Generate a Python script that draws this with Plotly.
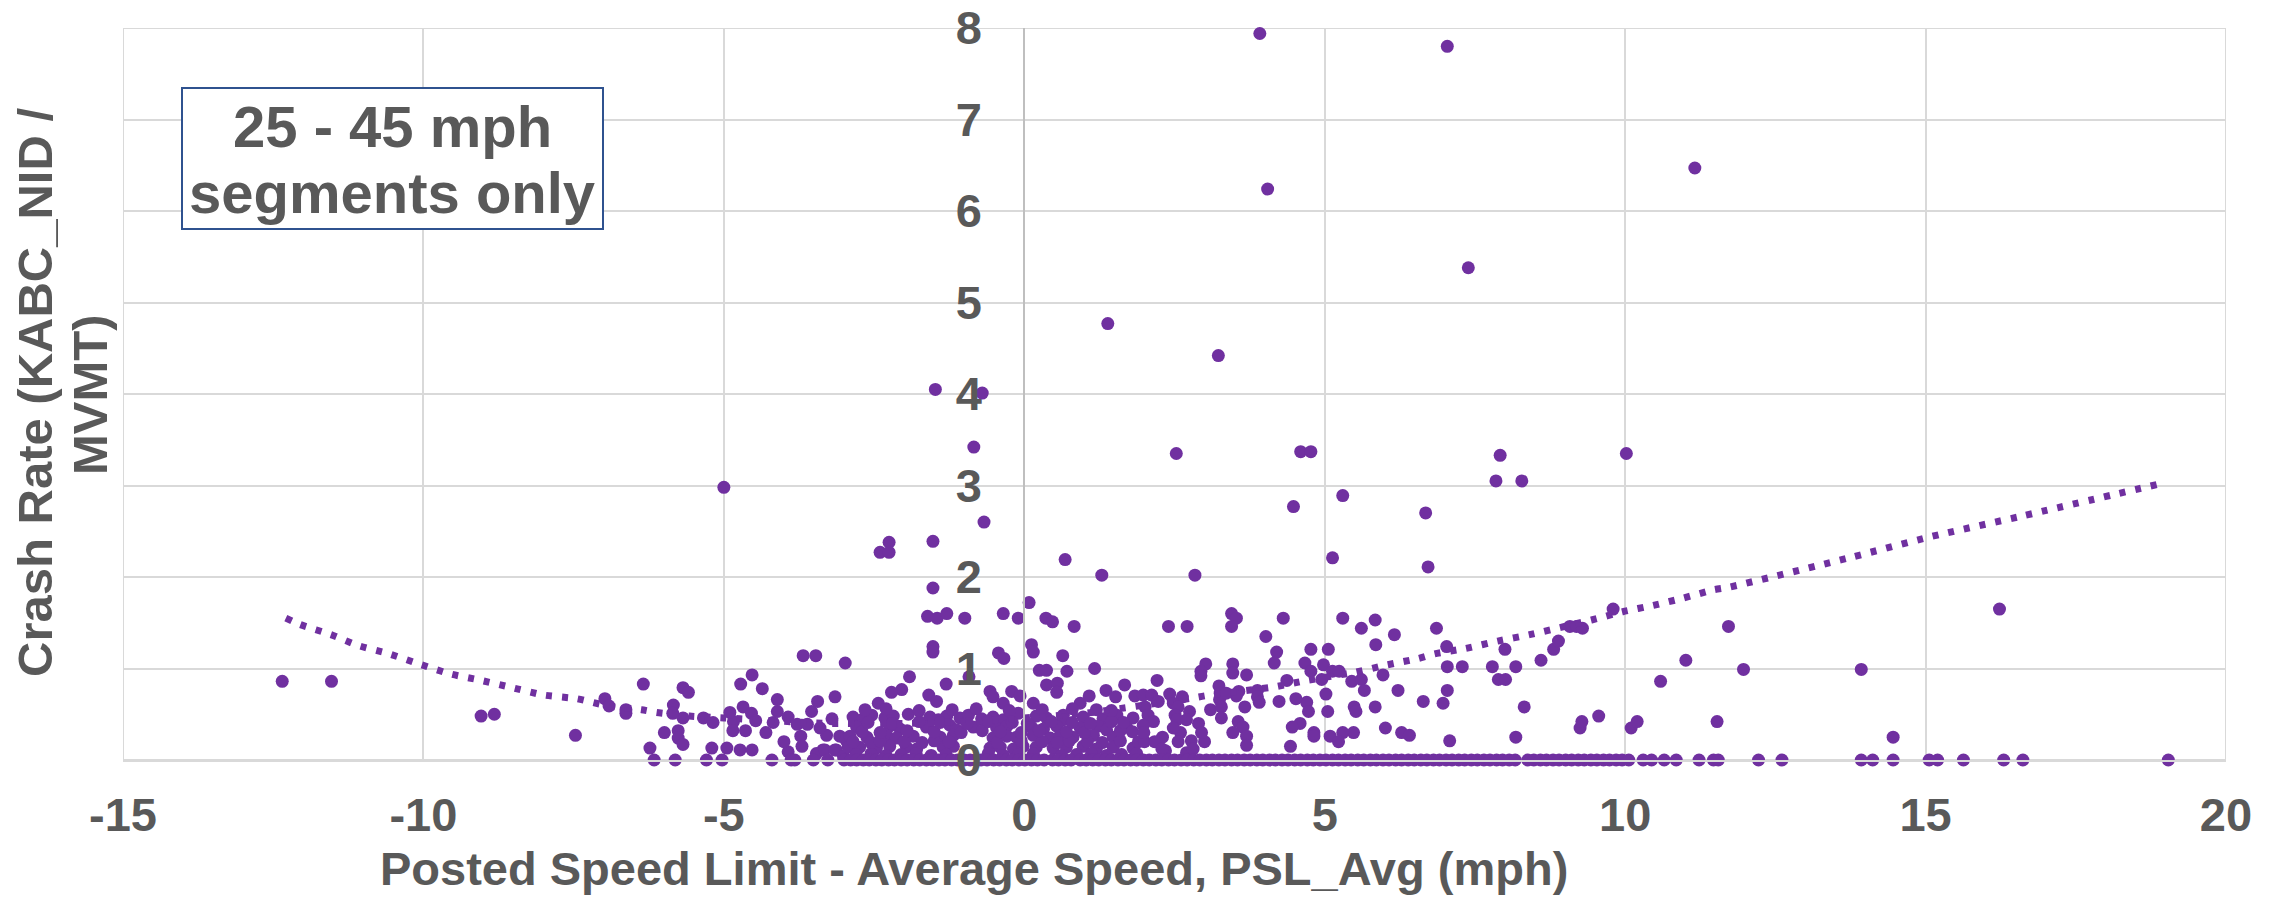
import plotly.graph_objects as go

# ---------------- data ----------------
# sparse high / outlying segments
out_x = [3.92, 7.04, 4.05, 11.16, 7.39, 1.39, 3.23, -1.48, -0.70, -0.84, 2.53, 4.60, 4.77,
         7.92, 10.02, 7.85, 8.28, 4.48, 5.30, 6.68, -0.67, -1.52, -2.25, -2.40, -2.25, 0.68,
         5.13, -5.00, 6.72, 1.29, 2.84, -12.35, -11.53, -9.04, -8.82, -7.47]
out_y = [7.94, 7.80, 6.24, 6.47, 5.38, 4.77, 4.42, 4.05, 4.01, 3.42, 3.35, 3.37, 3.37,
         3.33, 3.35, 3.05, 3.05, 2.77, 2.89, 2.70, 2.60, 2.39, 2.38, 2.27, 2.27, 2.19,
         2.21, 2.98, 2.11, 2.02, 2.02, 0.86, 0.86, 0.48, 0.50, 0.27]

# segments between -7 and -2.9 mph
left_x = [-6.98, -6.91, -6.63, -6.63, -6.34, -6.23, -5.99, -5.84, -5.85, -5.76, -5.76, -5.68,
          -5.68, -5.59, -5.68, -5.34, -5.20, -5.18, -4.95, -4.84, -4.85, -4.72, -4.53, -4.36,
          -4.68, -4.73, -4.53, -4.54, -4.64, -4.47, -4.18, -4.11, -4.11, -3.93, -3.93, -3.78,
          -3.61, -3.72, -3.54, -3.44, -3.15, -3.35, -3.29, -3.13, -3.07, -2.98, -3.68, -3.47,
          -2.97, -3.46, -3.32, -3.15, -3.01, -2.93, -4.30, -4.00, -3.70, -3.40, -3.20, -4.90]
left_y = [0.67, 0.59, 0.51, 0.55, 0.83, 0.13, 0.30, 0.60, 0.51, 0.32, 0.24, 0.17,
          0.79, 0.74, 0.46, 0.46, 0.13, 0.41, 0.13, 0.42, 0.32, 0.83, 0.93, 0.78,
          0.58, 0.11, 0.11, 0.51, 0.32, 0.43, 0.41, 0.66, 0.53, 0.47, 0.09, 0.39,
          0.39, 0.26, 0.53, 0.64, 0.69, 0.11, 0.27, 0.11, 0.26, 1.06, 1.14, 1.14,
          0.22, 0.07, 0.11, 0.11, 0.04, 0.14, 0.30, 0.20, 0.15, 0.35, 0.45, 0.52]

# segments between -2.9 and 1.9 mph
mid_x = [-1.52, -1.61, -1.45, -1.29, -0.99, -1.52, -1.52, -0.35, -0.10, 0.08, 0.36, 0.47,
         0.83, 0.12, 0.15, -0.43, -0.34, 0.64, 0.25, 0.37, 0.71, 1.17, 0.37, 0.55, 0.54,
         1.36, 1.67, -1.91, -2.04, -2.21, -1.30, -0.92, -1.59, -1.46, -2.43, -0.57, -0.52,
         -0.35, -0.21, -0.07, -0.10, 0.15, 0.65, 0.93, 1.08, 1.20, 1.52, 1.84,
         -2.85, -2.68, -2.54, -2.32, -2.18, -1.93, -1.57, -1.43, -1.29, -1.07, -0.93, -0.71,
         -0.52, -0.35, 0.20, 0.37, 0.65, 0.98, 1.31, 1.54, 1.81,
         -2.79, -2.24, -2.07, -1.63, -1.24, -1.13, -0.85, -0.46, -0.29, 0.12, 0.32, 0.54,
         0.93, 1.23, 1.37, 1.70,
         -2.90, -2.62, -2.29, -2.13, -1.85, -1.40, -1.18, -0.52, -0.29, -0.13, 0.15, 0.43,
         0.59, 0.81, 1.15, 1.48,
         -2.74, -2.46, -2.24, -1.96, -1.79, -1.35, -1.18, -0.57, -0.40, -0.18, -0.02, 0.20,
         0.48, 0.70, 0.98, 1.20, 1.48, 1.81]
mid_y = [1.88, 1.57, 1.55, 1.60, 1.55, 1.24, 1.18, 1.60, 1.55, 1.72, 1.55, 1.51,
         1.46, 1.26, 1.18, 1.17, 1.11, 1.14, 0.98, 0.98, 0.97, 1.00, 0.82, 0.84, 0.74,
         0.76, 0.82, 0.91, 0.77, 0.74, 0.83, 0.91, 0.71, 0.64, 0.62, 0.75, 0.69,
         0.62, 0.75, 0.70, 0.51, 0.62, 0.49, 0.62, 0.70, 0.55, 0.69, 0.70,
         0.47, 0.45, 0.49, 0.46, 0.48, 0.50, 0.47, 0.44, 0.48, 0.46, 0.49, 0.45,
         0.47, 0.44, 0.48, 0.46, 0.44, 0.47, 0.45, 0.49, 0.46,
         0.36, 0.37, 0.34, 0.36, 0.38, 0.33, 0.36, 0.35, 0.37, 0.36, 0.34, 0.37,
         0.35, 0.37, 0.33, 0.36,
         0.26, 0.25, 0.27, 0.24, 0.26, 0.25, 0.27, 0.24, 0.26, 0.25, 0.27, 0.24,
         0.26, 0.25, 0.27, 0.25,
         0.14, 0.13, 0.15, 0.14, 0.12, 0.14, 0.15, 0.13, 0.14, 0.12, 0.15, 0.14,
         0.13, 0.14, 0.15, 0.12, 0.14, 0.13]

# further segments filling the dense band near zero (-3 to 3 mph)
band_x = [-2.80, -2.55, -2.30, -2.05, -1.80, -1.55, -1.30, -0.60, -0.35, -0.10, 0.15, 0.62,
          0.87, 1.12, 1.37, 1.62, 1.87,
          -2.85, -2.55, -2.40, -2.00, -1.70, -1.50, -1.25, -0.45, -0.05, 0.30, 0.55, 0.75,
          1.05, 1.30, 1.60, 1.90,
          -2.70, -2.40, -1.95, -1.50, -1.05, -0.70, -0.40, -0.05, 0.25, 0.70, 1.00, 1.60, 1.80,
          -2.60, -2.20, -1.75, -1.40, -0.95, -0.60, -0.20, 0.05, 0.45, 0.80, 1.10, 1.45, 1.65,
          -2.65, -2.30, -1.75, -1.20, -0.80, -0.25, 0.30, 0.80, 1.45,
          2.00, 2.30, 2.60, 2.90, 2.35, 2.70, 3.00, 3.10]
band_y = [0.06, 0.07, 0.05, 0.06, 0.07, 0.05, 0.06, 0.07, 0.05, 0.06, 0.07, 0.05,
          0.06, 0.07, 0.05, 0.06, 0.07,
          0.20, 0.19, 0.21, 0.20, 0.19, 0.21, 0.20, 0.19, 0.21, 0.20, 0.19, 0.21,
          0.20, 0.19, 0.21, 0.20,
          0.31, 0.30, 0.32, 0.31, 0.30, 0.32, 0.31, 0.30, 0.32, 0.31, 0.30, 0.32, 0.31,
          0.41, 0.40, 0.42, 0.41, 0.40, 0.42, 0.41, 0.40, 0.42, 0.41, 0.40, 0.42, 0.41,
          0.55, 0.56, 0.54, 0.55, 0.56, 0.54, 0.55, 0.56, 0.54,
          0.20, 0.25, 0.30, 0.40, 0.10, 0.08, 0.20, 0.55]

# segments between 1.9 and 6.8 mph
right_x = [2.40, 2.71, 3.45, 3.53, 3.45, 4.31, 4.02, 4.20, 4.16, 4.77, 5.06, 5.30, 5.61,
           5.84, 5.85, 6.16, 4.67, 4.77, 4.98, 5.13, 5.24, 4.95, 5.02, 5.05, 5.45, 5.61,
           5.66, 5.97, 6.22, 5.49, 5.52, 5.84, 6.01, 6.28, 6.41, 6.64, 5.48, 5.30, 5.09,
           5.23, 4.82, 4.82, 4.70, 4.73, 4.52, 4.59, 4.46, 4.43, 4.37, 4.24, 3.70, 3.67,
           3.47, 3.47, 3.57, 3.53, 3.56, 3.64, 3.70, 3.70, 3.47, 3.88, 3.88, 3.91, 3.02,
           2.94, 2.94, 3.24, 3.26, 3.25, 3.28, 3.28, 3.36, 2.95, 2.21, 1.98, 2.12, 2.23,
           2.01, 2.42, 2.63, 2.48, 2.56, 2.06, 2.15, 1.98, 1.99, 2.51, 2.54, 2.75, 2.70,
           2.48, 2.17, 2.29, 2.56, 2.78, 2.81]
right_y = [1.46, 1.46, 1.60, 1.55, 1.46, 1.55, 1.35, 1.18, 1.06, 1.21, 1.21, 1.55, 1.44,
           1.53, 1.26, 1.37, 1.06, 0.97, 1.04, 0.97, 0.97, 0.88, 0.72, 0.53, 0.86, 0.88,
           0.76, 0.93, 0.76, 0.58, 0.53, 0.58, 0.35, 0.30, 0.27, 0.64, 0.30, 0.30, 0.26,
           0.20, 0.30, 0.26, 0.63, 0.53, 0.67, 0.40, 0.36, 0.15, 0.87, 0.64, 0.93, 0.58,
           1.05, 0.95, 0.75, 0.70, 0.42, 0.36, 0.26, 0.16, 0.30, 0.76, 0.69, 0.63, 1.05,
           0.97, 0.92, 0.81, 0.73, 0.66, 0.58, 0.46, 0.73, 0.30, 0.87, 0.71, 0.71, 0.64,
           0.58, 0.72, 0.69, 0.62, 0.58, 0.49, 0.42, 0.38, 0.30, 0.49, 0.44, 0.53, 0.44,
           0.35, 0.20, 0.12, 0.20, 0.21, 0.12]

# segments above 6.8 mph
far_x = [6.86, 7.03, 7.04, 7.29, 7.04, 6.97, 7.08, 7.79, 8.18, 7.89, 8.01, 8.00, 8.60,
         8.81, 8.89, 9.08, 9.19, 9.29, 9.80, 8.32, 8.18, 9.25, 9.28, 9.56, 10.10, 10.20,
         10.59, 11.01, 11.53, 16.23, 11.72, 11.97, 13.93, 14.46]
far_y = [1.44, 1.24, 1.02, 1.02, 0.76, 0.62, 0.21, 1.02, 1.02, 0.88, 0.88, 1.21, 1.09,
         1.21, 1.30, 1.46, 1.46, 1.44, 1.65, 0.58, 0.25, 0.35, 0.42, 0.48, 0.35, 0.42,
         0.86, 1.09, 0.42, 1.65, 1.46, 0.99, 0.99, 0.25]

# segments with zero KABC crashes
zero_x = [-6.16, -5.81, -5.29, -5.03, -4.20, -3.88, -3.82, -3.51, -3.27,
          -3.00, -2.89, -2.79, -2.68, -2.58, -2.47, -2.37, -2.26, -2.16, -2.05, -1.95,
          -1.84, -1.74, -1.63, -1.53, -1.42, -1.32, -1.21, -1.11, -1.00, -0.90, -0.80,
          -0.72, -0.62, -0.51, -0.41, -0.30, -0.20, -0.09, 0.01, 0.12, 0.22, 0.33, 0.47,
          0.57, 0.68, 0.78, 0.93, 1.03, 1.14, 1.24, 1.35, 1.45, 1.56, 1.66, 1.77, 1.87,
          1.98, 2.08, 2.19, 2.29, 2.40, 2.50, 2.61, 2.71, 2.82, 2.92, 3.03, 3.13, 3.24,
          3.34, 3.45, 3.55, 3.66, 3.76, 3.87, 3.97, 4.08, 4.18, 4.29, 4.39, 4.50, 4.60,
          4.71, 4.81, 4.92, 5.02, 5.13, 5.23, 5.34, 5.44, 5.55, 5.65, 5.76, 5.86, 5.97,
          6.07, 6.18, 6.28, 6.39, 6.49, 6.60, 6.70, 6.81, 6.91, 7.02, 7.12, 7.23, 7.33,
          7.44, 7.54, 7.65, 7.75, 7.86, 7.96, 8.07, 8.17, 8.38, 8.48, 8.59, 8.69, 8.80,
          8.90, 9.01, 9.11, 9.22, 9.32, 9.43, 9.53, 9.64, 9.74, 9.85, 9.95, 10.06,
          10.30, 10.44, 10.65, 10.85, 11.23, 11.47, 11.55, 12.22, 12.61, 13.93, 14.12,
          14.46, 15.06, 15.20, 15.63, 16.30, 16.62, 19.04]
zero_y = [0.0] * len(zero_x)

# polynomial trend line, read at points along the curve
trend_x = [-12.29, -12.05, -11.54, -11.08, -10.57, -10.03, -9.55, -9.04, -8.52, -8.00,
           -7.45, -6.92, -6.37, -6.12, -5.57, -5.00, -4.73, -3.34, -3.04, -2.00, -1.00,
           0.00, 1.00, 2.00, 2.82, 3.09, 4.17, 4.70, 5.51, 6.04, 6.56, 6.83, 7.35, 7.88,
           8.41, 8.93, 9.44, 9.96, 10.47, 10.97, 11.47, 11.74, 13.79, 15.08, 16.63, 18.91]
trend_y = [1.55, 1.48, 1.37, 1.25, 1.16, 1.04, 0.94, 0.87, 0.79, 0.71,
           0.67, 0.59, 0.55, 0.52, 0.48, 0.46, 0.45, 0.40, 0.40, 0.40, 0.42,
           0.46, 0.51, 0.60, 0.68, 0.71, 0.80, 0.87, 0.96, 1.04, 1.11, 1.16, 1.22, 1.30,
           1.37, 1.45, 1.53, 1.62, 1.69, 1.77, 1.86, 1.89, 2.22, 2.44, 2.67, 3.02]

x_ticks = [-15, -10, -5, 0, 5, 10, 15, 20]
y_ticks = [0, 1, 2, 3, 4, 5, 6, 7, 8]
x_range = [-15, 20]
y_range = [0, 8]

# ---------------- figure ----------------
PURPLE = "#7030A0"
GRAY = "#595959"
GRID = "#D9D9D9"
FONT = "Liberation Sans, Arial, sans-serif"

W, H = 2280, 898
ML, MR, MT, MB = 123, 54, 28, 138          # plot box, in page pixels
PW, PH = W - ML - MR, H - MT - MB


def px_x(p):
    return (p - ML) / PW


def px_y(p):
    return (H - MB - p) / PH


all_x = out_x + left_x + mid_x + band_x + right_x + far_x + zero_x
all_y = out_y + left_y + mid_y + band_y + right_y + far_y + zero_y

fig = go.Figure()
fig.add_trace(go.Scatter(
    x=all_x, y=all_y, mode="markers",
    marker=dict(color=PURPLE, size=13, line=dict(width=0)),
    cliponaxis=False, showlegend=False, name="Segments"))
fig.add_trace(go.Scatter(
    x=trend_x, y=trend_y, mode="lines",
    line=dict(color=PURPLE, width=7, dash="6px,10px", shape="spline", smoothing=0.6),
    showlegend=False, name="Poly. trend"))

fig.update_layout(
    width=W, height=H,
    margin=dict(l=ML, r=MR, t=MT, b=MB, autoexpand=False),
    paper_bgcolor="white", plot_bgcolor="white",
    font=dict(family=FONT, color=GRAY, size=47, weight="bold"),
    xaxis=dict(range=x_range, tickvals=x_ticks, ticktext=[str(v) for v in x_ticks],
               showgrid=True, gridcolor=GRID, gridwidth=2, zeroline=False,
               showline=True, linecolor=GRID, linewidth=2, ticks="",
               tickfont=dict(family=FONT, size=47, color=GRAY, weight="bold"),
               ticklabelstandoff=13, ticklabeloverflow="allow"),
    yaxis=dict(range=y_range, tickvals=y_ticks, ticktext=[str(v) for v in y_ticks],
               anchor="free", position=px_x(ML + 15 * PW / 35),
               showgrid=True, gridcolor=GRID, gridwidth=2, zeroline=False,
               showline=True, linecolor="#BFBFBF", linewidth=2, ticks="",
               tickfont=dict(family=FONT, size=47, color=GRAY, weight="bold"),
               ticklabelstandoff=32, ticklabeloverflow="allow"),
)

# plot-area frame (left, right and top grid lines at the range ends)
fig.add_shape(type="rect", xref="x", yref="y",
              x0=x_range[0], x1=x_range[1], y0=y_range[0], y1=y_range[1],
              line=dict(color=GRID, width=2), fillcolor="rgba(0,0,0,0)", layer="below")

# annotation box
fig.add_shape(type="rect", xref="paper", yref="paper",
              x0=px_x(182), x1=px_x(603), y0=px_y(229), y1=px_y(88),
              line=dict(color="#2F528F", width=2), fillcolor="white", layer="above")
fig.add_annotation(text="25 - 45 mph", xref="paper", yref="paper",
                   x=px_x(392), y=px_y(127), xanchor="center", yanchor="middle",
                   showarrow=False, font=dict(family=FONT, size=58, color=GRAY, weight="bold"))
fig.add_annotation(text="segments only", xref="paper", yref="paper",
                   x=px_x(392), y=px_y(192), xanchor="center", yanchor="middle",
                   showarrow=False, font=dict(family=FONT, size=58, color=GRAY, weight="bold"))

# axis titles
fig.add_annotation(text="Posted Speed Limit - Average Speed, PSL_Avg (mph)",
                   xref="paper", yref="paper", x=px_x(974), y=px_y(868),
                   xanchor="center", yanchor="middle", showarrow=False,
                   font=dict(family=FONT, size=47, color=GRAY, weight="bold"))
fig.add_annotation(text="Crash Rate (KABC_NID /", xref="paper", yref="paper",
                   x=px_x(35), y=px_y(393), xanchor="center", yanchor="middle",
                   textangle=-90, showarrow=False,
                   font=dict(family=FONT, size=49, color=GRAY, weight="bold"))
fig.add_annotation(text="MVMT)", xref="paper", yref="paper",
                   x=px_x(90), y=px_y(395), xanchor="center", yanchor="middle",
                   textangle=-90, showarrow=False,
                   font=dict(family=FONT, size=49, color=GRAY, weight="bold"))

# remove the browser's default 8px page margin so the figure fills the window
fig.write_html("out.html",
               config={"displayModeBar": False},
               post_script="document.body.style.margin='0px';document.body.style.overflow='hidden';")
